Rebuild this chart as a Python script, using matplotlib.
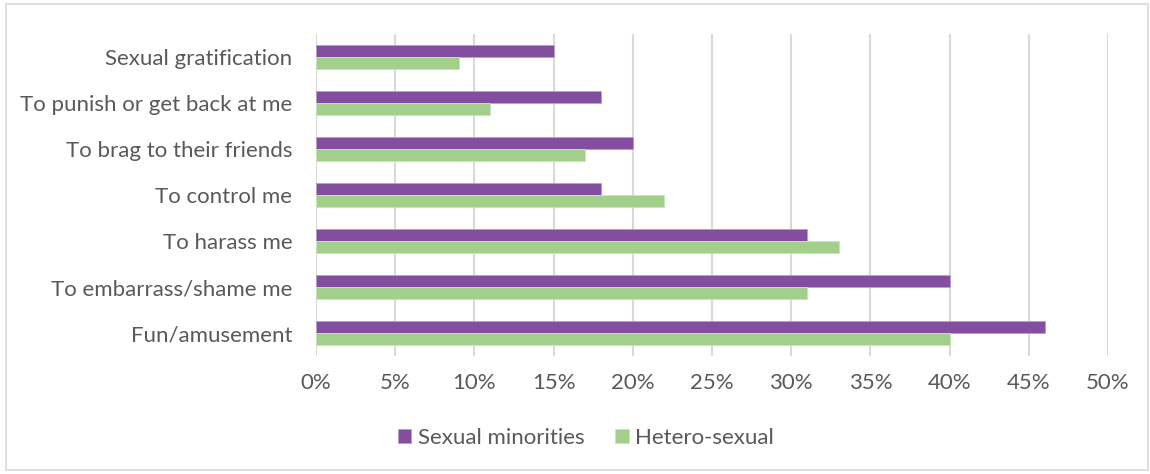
import matplotlib
matplotlib.use("Agg")
import matplotlib.pyplot as plt
import numpy as np
from matplotlib.patches import Rectangle

categories = ["Sexual gratification", "To punish or get back at me", "To brag to their friends",
              "To control me", "To harass me", "To embarrass/shame me", "Fun/amusement"]
sexual_minorities = [15, 18, 20, 18, 31, 40, 46]
hetero_sexual = [9, 11, 17, 22, 33, 31, 40]
series_names = ["Sexual minorities", "Hetero-sexual"]
xticks = list(range(0, 55, 5))

purple = "#834E9F"
green = "#A2CF8A"
textc = "#595959"

plt.rcParams['font.family'] = ['Lato', 'DejaVu Sans']

fig = plt.figure(figsize=(11.5, 4.74), dpi=100)
W, H = 1150, 474
ax = fig.add_axes([316 / W, 1 - 356 / H, (1108 - 316) / W, (356 - 34) / H])

n = len(categories)
y = np.arange(n)
h = 0.26
ax.barh(y - h / 2, sexual_minorities, height=h, color=purple, label=series_names[0], zorder=3,
        edgecolor="#b9a0c8", linewidth=0.6)
ax.barh(y + h / 2, hetero_sexual, height=h, color=green, label=series_names[1], zorder=3,
        edgecolor="#c9e4bb", linewidth=0.6)

ax.set_ylim(n - 0.5, -0.5)
ax.set_xlim(0, 50)
ax.set_yticks(y)
ax.set_yticklabels(categories, fontsize=16, color=textc)
ax.set_xticks(xticks)
ax.set_xticklabels([f"{t}%" for t in xticks], fontsize=16, color=textc)
ax.tick_params(axis='both', length=0)
ax.tick_params(axis='y', pad=17)
ax.tick_params(axis='x', pad=12)
ax.grid(axis='x', color="#d9d9d9", linewidth=1.5, zorder=0)
for s in ax.spines.values():
    s.set_visible(False)

leg = fig.legend(loc='center', bbox_to_anchor=(586 / W, 1 - 438 / H), ncol=2, frameon=False,
                 fontsize=16, handlelength=0.6, handleheight=0.6, columnspacing=1.4, handletextpad=0.3)
for t in leg.get_texts():
    t.set_color(textc)

fig.patches.append(Rectangle((6 / W, 4 / H), (1148 - 6) / W, (470 - 4) / H, transform=fig.transFigure,
                             fill=False, edgecolor="#d9d9d9", linewidth=1.2))

fig.savefig("out.png", dpi=100, facecolor="white")
